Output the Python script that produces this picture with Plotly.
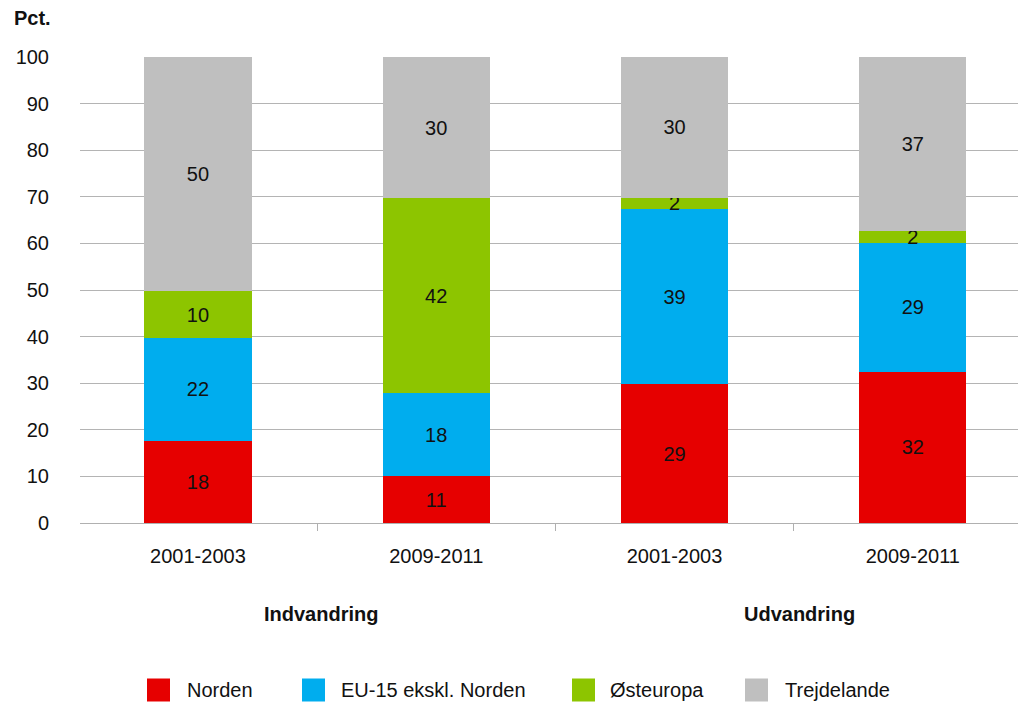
import plotly.graph_objects as go

periods = ["2001-2003", "2009-2011", "2001-2003", "2009-2011"]
groups = ["Indvandring", "Udvandring"]
series_names = ["Norden", "EU-15 ekskl. Norden", "Østeuropa", "Trejdelande"]

norden = [17.7, 10.0, 29.8, 32.5]
eu15 = [22.0, 17.8, 37.6, 27.5]
oesteuropa = [10.0, 41.9, 2.4, 2.6]
trejdelande = [50.3, 30.3, 30.2, 37.4]

norden_lbl = ["18", "11", "29", "32"]
eu15_lbl = ["22", "18", "39", "29"]
oesteuropa_lbl = ["10", "42", "2", "2"]
trejdelande_lbl = ["50", "30", "30", "37"]

colors = ["#E60000", "#00ADEE", "#8DC500", "#BFBFBF"]
FONT = "Liberation Sans, Arial, Helvetica, sans-serif"
FS = 20

W, H = 1018, 695
ML, MR, MT, MB = 72, 0, 49, 180
PW, PH = W - ML - MR, H - MT - MB

xpos = list(range(len(periods)))
fig = go.Figure()
for name, vals, lbls, col in zip(series_names,
                                 [norden, eu15, oesteuropa, trejdelande],
                                 [norden_lbl, eu15_lbl, oesteuropa_lbl, trejdelande_lbl],
                                 colors):
    fig.add_trace(go.Bar(
        x=xpos, y=vals, name=name, marker=dict(color=col, line=dict(width=0)),
        text=lbls, textposition="inside", insidetextanchor="middle",
        textangle=0, textfont=dict(color="#111", size=FS, family=FONT),
        width=0.45, showlegend=False, hoverinfo="skip"))

fig.update_layout(
    barmode="stack",
    width=W, height=H,
    margin=dict(l=ML, r=MR, t=MT, b=MB, autoexpand=False),
    plot_bgcolor="white", paper_bgcolor="white",
    font=dict(family=FONT, size=FS, color="#111"),
    uniformtext=dict(minsize=FS, mode="show"),
    showlegend=False,
    xaxis=dict(range=[-0.495, 3.475], tickmode="array", tickvals=xpos, ticktext=periods,
               showgrid=False, zeroline=False, showline=True, linecolor="#b0b0b0",
               ticks="", tickfont=dict(size=FS), ticklabelstandoff=15,
               minor=dict(tickmode="linear", tick0=0.5, dtick=1, ticks="outside",
                          ticklen=7, tickcolor="#b0b0b0", showgrid=False)),
    yaxis=dict(range=[0, 100], dtick=10, showgrid=True, gridcolor="#b4b4b4",
               gridwidth=1, zeroline=False, showline=False, ticks="",
               tickfont=dict(size=FS), ticklabelstandoff=30),
)

group_x = [0.516, 2.526]
for gx, g in zip(group_x, groups):
    fig.add_annotation(x=gx, xref="x", y=-0.195, yref="paper",
                       text="<b>" + g + "</b>", showarrow=False,
                       font=dict(size=FS, family=FONT), yanchor="middle")

fig.add_annotation(x=-0.072, xref="paper", y=1.0837, yref="paper", text="<b>Pct.</b>",
                   showarrow=False, xanchor="left", yanchor="middle",
                   font=dict(size=FS, family=FONT))

# legend drawn as layout elements (large square swatches)
legend_box_px = [139, 294, 564, 737]
legend_txt_px = [177, 331, 600, 775]
leg_y_px = 682
box = 23
for name, col, bx, tx in zip(series_names, colors, legend_box_px, legend_txt_px):
    x0 = (bx - ML) / PW
    x1 = (bx + box - ML) / PW
    yc = (H - MB - leg_y_px) / PH
    fig.add_shape(type="rect", xref="paper", yref="paper",
                  x0=x0, x1=x1, y0=yc - box / 2 / PH, y1=yc + box / 2 / PH,
                  fillcolor=col, line=dict(width=0))
    fig.add_annotation(x=(tx - ML) / PW, xref="paper", y=yc, yref="paper",
                       text=name, showarrow=False, xanchor="left", yanchor="middle",
                       font=dict(size=FS, family=FONT))

fig.write_html("out.html")
